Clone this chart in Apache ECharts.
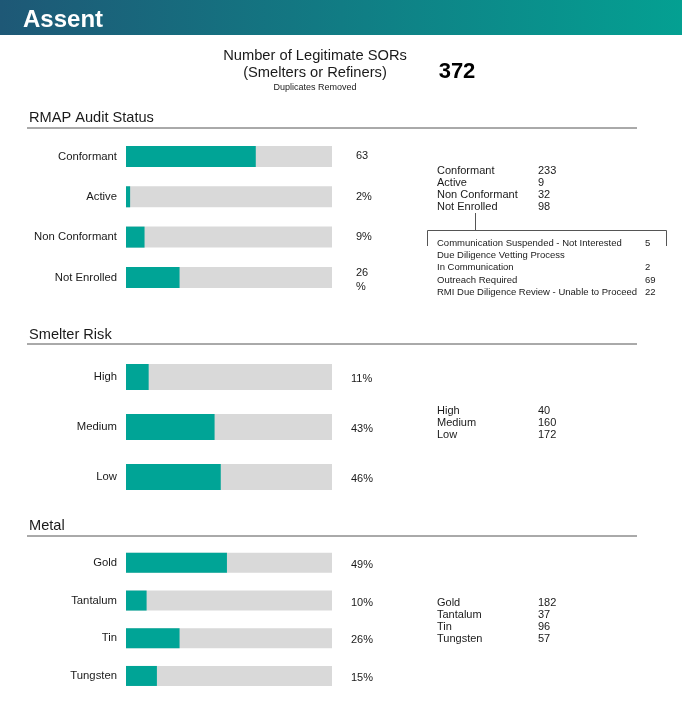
<!DOCTYPE html>
<html>
<head>
<meta charset="utf-8">
<script src="https://cdn.jsdelivr.net/npm/echarts@6/dist/echarts.min.js"></script>
<style>
html,body{margin:0;padding:0;background:#fff;}
#c{width:682px;height:716px;}
</style>
</head>
<body>
<div id="c"></div>
<script>
// ---- Data ----
const totalSORs = 372;

const auditCategories = ['Conformant', 'Active', 'Non Conformant', 'Not Enrolled'];
const auditPct = [63, 2, 9, 26];
const auditPctLabels = ['63', '2%', '9%', '26\n%'];
const auditCounts = [233, 9, 32, 98];

const notEnrolledCategories = ['Communication Suspended - Not Interested', 'Due Diligence Vetting Process', 'In Communication', 'Outreach Required', 'RMI Due Diligence Review - Unable to Proceed'];
const notEnrolledCounts = ['5', '', '2', '69', '22'];

const riskCategories = ['High', 'Medium', 'Low'];
const riskPct = [11, 43, 46];
const riskPctLabels = ['11%', '43%', '46%'];
const riskCounts = [40, 160, 172];

const metalCategories = ['Gold', 'Tantalum', 'Tin', 'Tungsten'];
const metalPct = [49, 10, 26, 15];
const metalPctLabels = ['49%', '10%', '26%', '15%'];
const metalCounts = [182, 37, 96, 57];

// ---- Chart ----
const FONT = '"Liberation Sans", Arial, sans-serif';
const TXT = '#1a1a1a';
const TEAL = '#00a496';
const GREY = '#d9d9d9';

const grids = [
  {left: 126, width: 206, top: 136.3, height: 161.3},
  {left: 126, width: 206, top: 352, height: 150},
  {left: 126, width: 206, top: 544, height: 150.8}
];
const cats = [auditCategories, riskCategories, metalCategories];
const pcts = [auditPct, riskPct, metalPct];
const pctLabels = [auditPctLabels, riskPctLabels, metalPctLabels];
const barWidths = [21, 26, 20];
const pctMargins = [24, 19, 19];
const pctShift = [0, 2, 2];   // downward nudge of right-hand labels, px

const xAxis = [], yAxis = [], series = [];
grids.forEach((g, i) => {
  xAxis.push({type: 'value', gridIndex: i, min: 0, max: 100, show: false});
  yAxis.push({
    type: 'category', gridIndex: i, data: cats[i], inverse: true, position: 'left',
    axisLine: {show: false}, axisTick: {show: false}, splitLine: {show: false},
    axisLabel: {color: TXT, fontFamily: FONT, fontSize: 11.3, margin: 9}
  });
  const base = {color: TXT, fontFamily: FONT, fontSize: 11, lineHeight: 16, align: 'left'};
  yAxis.push({
    type: 'category', gridIndex: i, inverse: true, position: 'right',
    data: pctLabels[i],
    axisLine: {show: false}, axisTick: {show: false}, splitLine: {show: false},
    axisLabel: {
      color: TXT, fontFamily: FONT, fontSize: 11, margin: pctMargins[i], align: 'left',
      formatter: v => {
        const lines = v.split('\n');
        if (lines.length > 1) return lines.map((l, k) => k === 0 ? '{m0|' + l + '}' : '{m|' + l + '}').join('\n');
        return '{s|' + v + '}';
      },
      rich: {
        s: Object.assign({}, base, {padding: [pctShift[i] * 2, 0, 0, 0]}),
        m0: Object.assign({}, base, {padding: [8, 0, 0, 0]}),
        m: Object.assign({}, base, {padding: [4, 0, 0, 0]})
      }
    }
  });
  series.push({
    type: 'bar', xAxisIndex: i, yAxisIndex: i * 2, data: pcts[i],
    barWidth: barWidths[i], showBackground: true,
    backgroundStyle: {color: GREY},
    itemStyle: {color: TEAL}, silent: true
  });
});

const graphic = [];
// header band
graphic.push({
  type: 'rect', shape: {x: 0, y: 0, width: 682, height: 35},
  style: {fill: new echarts.graphic.LinearGradient(0, 0, 1, 0, [
    {offset: 0, color: '#1e5876'}, {offset: 1, color: '#04a092'}
  ])}, silent: true
});
graphic.push({type: 'text', x: 23, y: 8, style: {text: 'Assent', fill: '#fff', font: 'bold 24px ' + FONT}});

// title
graphic.push({type: 'text', x: 315, y: 48, style: {text: 'Number of Legitimate SORs', fill: TXT, font: '14.7px ' + FONT, align: 'center'}});
graphic.push({type: 'text', x: 315, y: 65, style: {text: '(Smelters or Refiners)', fill: TXT, font: '14.7px ' + FONT, align: 'center'}});
graphic.push({type: 'text', x: 315, y: 83, style: {text: 'Duplicates Removed', fill: TXT, font: '9px ' + FONT, align: 'center'}});
graphic.push({type: 'text', x: 457, y: 61, style: {text: String(totalSORs), fill: '#000', font: 'bold 22px ' + FONT, align: 'center'}});

// section headers
const sections = [['RMAP Audit Status', 110, 128], ['Smelter Risk', 327, 344], ['Metal', 518, 536]];
sections.forEach(s => {
  graphic.push({type: 'text', x: 29, y: s[1], style: {text: s[0], fill: TXT, font: '14.6px ' + FONT}});
  graphic.push({type: 'line', shape: {x1: 27, y1: s[2], x2: 637, y2: s[2]}, style: {stroke: '#555', lineWidth: 1}});
});

// tables
function table(names, vals, x1, x2, y0, dy, size) {
  names.forEach((n, i) => {
    graphic.push({type: 'text', x: x1, y: y0 + i * dy, style: {text: n, fill: TXT, font: size + 'px ' + FONT}});
    graphic.push({type: 'text', x: x2, y: y0 + i * dy, style: {text: String(vals[i]), fill: TXT, font: size + 'px ' + FONT}});
  });
}
table(auditCategories, auditCounts, 437, 538, 165, 12, 11);
table(notEnrolledCategories, notEnrolledCounts, 437, 645, 238, 12.3, 9.5);
table(riskCategories, riskCounts, 437, 538, 405, 12, 11);
table(metalCategories, metalCounts, 437, 538, 597, 12, 11);

// bracket
graphic.push({type: 'polyline', shape: {points: [[475.5, 213], [475.5, 230.5]]}, style: {stroke: '#555', lineWidth: 1, fill: null}});
graphic.push({type: 'polyline', shape: {points: [[427.5, 246], [427.5, 230.5], [666.5, 230.5], [666.5, 246]]}, style: {stroke: '#555', lineWidth: 1, fill: null}});

const chart = echarts.init(document.getElementById('c'), null, {renderer: 'canvas'});
chart.setOption({
  animation: false,
  backgroundColor: '#fff',
  grid: grids.map(g => Object.assign({containLabel: false}, g)),
  xAxis, yAxis, series, graphic
});
</script>
</body>
</html>
